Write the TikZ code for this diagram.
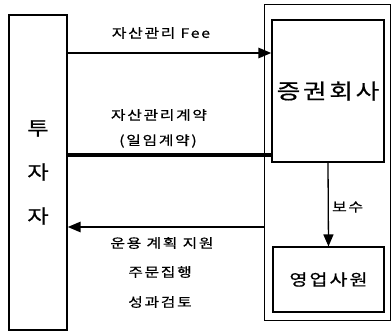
\documentclass[tikz,border=0pt]{standalone}
\usepackage{fontspec}
\setmainfont{Noto Sans CJK KR}[FakeStretch=1.22,FakeBold=0.6,LetterSpace=13]
\usetikzlibrary{arrows.meta}
\begin{document}
\begin{tikzpicture}[x=1pt,y=-1pt,
  box/.style={draw,line width=1.1pt,inner sep=0pt},
  lbl/.style={font=\fontsize{13}{14}\selectfont,inner sep=0pt},
  flow/.style={line width=2.6pt},
  tip/.style={-{Triangle[length=13pt,width=10pt]}}]
\useasboundingbox (0,0) rectangle (392,332);
\node[box,minimum width=58pt,minimum height=315pt,align=center,
  font=\fontsize{19}{44}\selectfont] (inv) at (38,172.5) {투\\자\\자};
\node[box,line width=0.9pt,minimum width=126pt,minimum height=316pt] (outer) at (327.5,162) {};
\node[box,minimum width=112pt,minimum height=142pt,font=\fontsize{21}{24}\selectfont] (firm) at (328,91) {증권회사};
\node[box,minimum width=111pt,minimum height=65pt,font=\fontsize{16}{18}\selectfont] (sales) at (328.5,279.5) {영업사원};
\coordinate (y1) at (0,53);
\coordinate (y2) at (0,155);
\coordinate (y3) at (0,227);
\draw[flow,tip] (inv.east |- y1) -- (firm.west |- y1);
\draw[line width=3.2pt] (inv.east |- y2) -- (firm.west |- y2);
\draw[flow,tip] (outer.west |- y3) -- (inv.east |- y3);
\draw[line width=1.3pt,-{Triangle[length=12pt,width=10pt]}] (firm.south) -- (sales.north);
\node[lbl] (l1) at (161,33) {자산관리 Fee};
\node[lbl] (l2) at (159,115) {자산관리계약};
\node[lbl] (l3) at (158,141) {(일임계약)};
\node[lbl] (l4) at (162,243) {운용 계획 지원};
\node[lbl] (l5) at (160,272) {주문집행};
\node[lbl] (l6) at (160,302) {성과검토};
\node[lbl,anchor=west] (l7) at (332,207) {보수};
\end{tikzpicture}
\end{document}
